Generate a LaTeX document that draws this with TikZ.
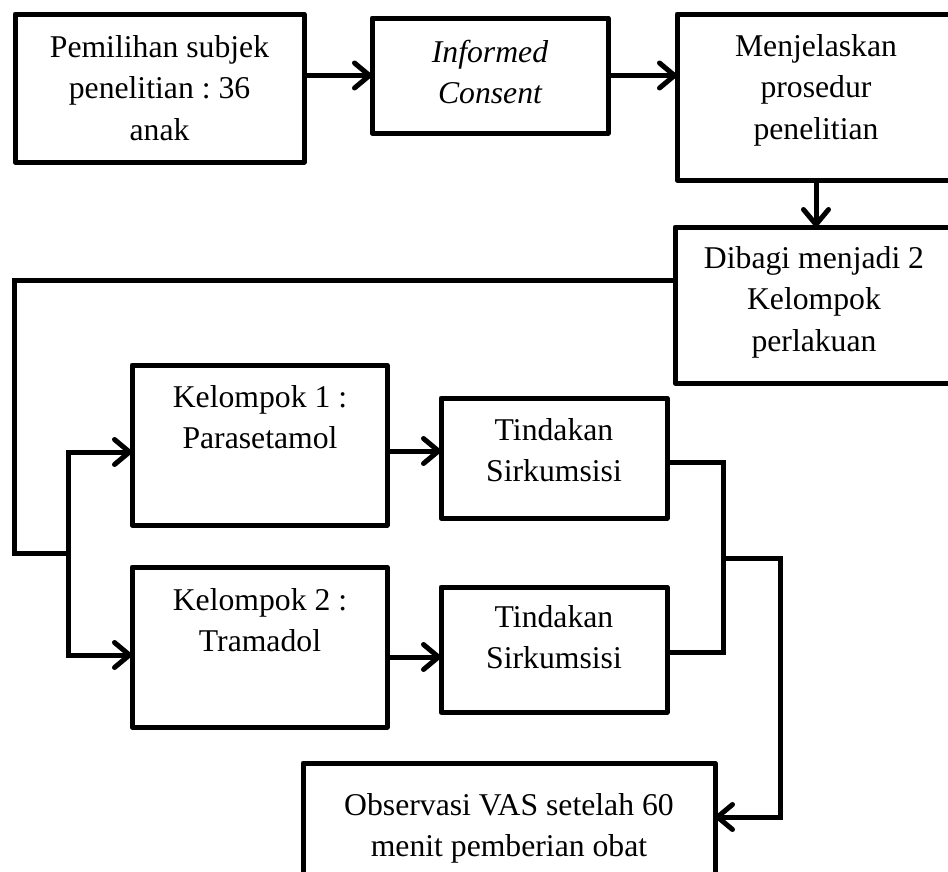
\documentclass[tikz,border=0pt]{standalone}
\usepackage{fontspec}
\setmainfont{Liberation Serif}
\usetikzlibrary{arrows.meta}
\frenchspacing
\begin{document}
\begin{tikzpicture}[x=1pt,y=-1pt,
  box/.style={draw, line width=5pt, line join=round, rectangle, inner sep=0pt, outer sep=0pt},
  txt/.style={anchor=north, inner sep=0pt, align=center, font=\fontsize{31.7}{41.5}\selectfont},
  conn/.style={line width=5pt, line join=miter},
  arr/.style={conn, -{Straight Barb[length=15pt,width=25pt,round]}}]
\useasboundingbox (0,0) rectangle (948,871);
\clip (0,0) rectangle (948,871);
% boxes
\node[box, minimum width=289pt, minimum height=148pt] (b1) at (159.5,88) {};
\node[box, minimum width=236pt, minimum height=115pt] (b2) at (490,75.5) {};
\node[box, minimum width=278pt, minimum height=166pt] (b3) at (816,97) {};
\node[box, minimum width=280pt, minimum height=156pt] (b4) at (815,305) {};
\node[box, minimum width=255pt, minimum height=160pt] (k1) at (259.5,445) {};
\node[box, minimum width=226pt, minimum height=120pt] (t1) at (554,458) {};
\node[box, minimum width=255pt, minimum height=160pt] (k2) at (259.5,647) {};
\node[box, minimum width=226pt, minimum height=125pt] (t2) at (554,649.5) {};
\node[box, minimum width=412pt, minimum height=137pt] (obs) at (509,831.5) {};
% texts
\node[txt] (x1) at (159.5,28) {\strut Pemilihan subjek\\penelitian : 36\\anak};
\node[txt] (x2) at (490,33) {\strut\itshape Informed\\\itshape Consent};
\node[txt] (x3) at (816,27) {\strut Menjelaskan\\prosedur\\penelitian};
\node[txt] (x4) at (814,239) {\strut Dibagi menjadi 2\\Kelompok\\perlakuan};
\node[txt] (xk1) at (260,378) {\strut Kelompok 1 :\\Parasetamol};
\node[txt] (xt1) at (554,411) {\strut Tindakan\\Sirkumsisi};
\node[txt] (xk2) at (260,581) {\strut Kelompok 2 :\\Tramadol};
\node[txt] (xt2) at (554,598) {\strut Tindakan\\Sirkumsisi};
\node[txt] (xo) at (509,786) {\strut Observasi VAS setelah 60\\menit pemberian obat};
% coordinates
\coordinate (lft) at (14,280);
\coordinate (jL) at (68,553);
\coordinate (mR) at (723,558);
\coordinate (kR) at (780,817);
\coordinate (r1) at ([yshift=-6pt]k1.east);
\coordinate (r2) at ([yshift=-10pt]k2.east);
% connectors
\draw[arr] (b1.east |- b2.west) -- (b2.west);
\draw[arr] (b2.east) -- (b2.east -| b3.west);
\draw[arr] (b3.south) -- (b3.south |- b4.north);
\draw[conn] (b4.west |- lft) -- (lft) |- (jL);
\draw[arr] (jL) |- ([yshift=-7pt]k1.west);
\draw[arr] (jL) |- ([yshift=-8pt]k2.west);
\draw[arr] (r1) -- (r1 -| t1.west);
\draw[arr] (r2) -- (r2 -| t2.west);
\draw[conn] ([yshift=-4pt]t1.east) -| (mR) |- ([yshift=-3pt]t2.east);
\draw[arr] (mR) -| (kR) -- (kR -| obs.east);
\end{tikzpicture}
\end{document}
